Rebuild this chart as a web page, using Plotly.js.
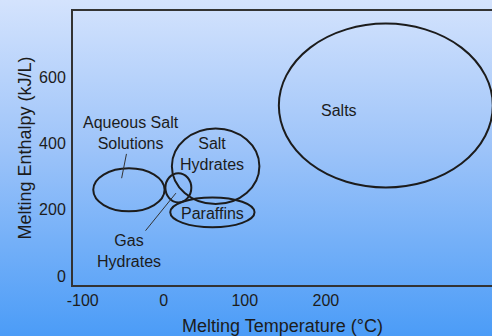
<!DOCTYPE html>
<html>
<head>
<meta charset="utf-8">
<script src="https://cdn.plot.ly/plotly-3.0.1.min.js"></script>
<style>
  html, body { margin: 0; padding: 0; }
  body { width: 492px; height: 336px; background: linear-gradient(to bottom, #d4e3fd 0%, #9cc3f9 45%, #4b9cf7 100%); }
  #chart { width: 492px; height: 336px; }
</style>
</head>
<body>
<div id="chart"></div>
<script>
// Material classes: melting temperature (°C) and melting enthalpy (kJ/L) regions
const regionNames      = ["Salts", "Aqueous Salt Solutions", "Gas Hydrates", "Salt Hydrates", "Paraffins"];
const tempCenter       = [274, -43, 18, 64, 60];
const tempHalfWidth    = [132, 44, 16, 54, 52];
const enthalpyCenter   = [514, 260, 266, 331, 192];
const enthalpyHalfSpan = [247, 65, 44, 114, 45];

// Labels
const labelTexts = ["Salts", "Aqueous Salt<br>Solutions", "Gas<br>Hydrates", "Salt<br>Hydrates", "Paraffins"];
const labelTemp  = [216, -41, -43, 60, 60];
const labelEnth  = [499, 430, 75, 367, 190];
const leaderTipTemp = [null, -52, 15, null, null];
const leaderTipEnth = [null, 295, 250, null, null];

const xTicks = [-100, 0, 100, 200];
const yTicks = [0, 200, 400, 600];

const ink = "#1c1c1c";
const fam = "Liberation Sans, Arial, sans-serif";
const shapes = regionNames.map((n, i) => ({
  type: "circle", xref: "x", yref: "y",
  x0: tempCenter[i] - tempHalfWidth[i], x1: tempCenter[i] + tempHalfWidth[i],
  y0: enthalpyCenter[i] - enthalpyHalfSpan[i], y1: enthalpyCenter[i] + enthalpyHalfSpan[i],
  line: { color: ink, width: 2 }, fillcolor: "rgba(0,0,0,0)"
}));

const annotations = labelTexts.map((t, i) => {
  const a = { text: t, xref: "x", yref: "y", font: { family: fam, size: 16, color: ink } };
  if (leaderTipTemp[i] !== null) {
    Object.assign(a, { x: leaderTipTemp[i], y: leaderTipEnth[i], ax: labelTemp[i], ay: labelEnth[i],
      axref: "x", ayref: "y", showarrow: true, arrowhead: 0, arrowwidth: 1, arrowcolor: "#333", standoff: 0, startstandoff: 0 });
  } else {
    Object.assign(a, { x: labelTemp[i], y: labelEnth[i], showarrow: false });
  }
  return a;
});

const layout = {
  width: 492, height: 336,
  paper_bgcolor: "rgba(0,0,0,0)", plot_bgcolor: "rgba(0,0,0,0)",
  margin: { l: 73, r: 0, t: 11, b: 51, pad: 0 },
  showlegend: false,
  font: { family: fam, size: 16, color: ink },
  xaxis: {
    range: [-112, 405], tickvals: xTicks, ticktext: xTicks.map(String),
    showgrid: false, zeroline: false, showline: true, mirror: true, linecolor: "#333", linewidth: 2,
    ticks: "", tickfont: { size: 16 },
    title: { text: "Melting Temperature (°C)", standoff: 11, font: { size: 18, color: ink } },
    automargin: false, fixedrange: true
  },
  yaxis: {
    range: [-27, 799], tickvals: yTicks, ticktext: yTicks.map(String),
    showgrid: false, zeroline: false, showline: true, mirror: false, linecolor: "#333", linewidth: 2,
    ticks: "outside", ticklen: 2, tickcolor: "rgba(0,0,0,0)", tickfont: { size: 16 },
    title: { text: "Melting Enthalpy (kJ/L)", standoff: 3, font: { size: 18, color: ink } },
    automargin: false, fixedrange: true
  },
  shapes: shapes,
  annotations: annotations
};

Plotly.newPlot("chart", [{ x: [], y: [], type: "scatter", mode: "markers", hoverinfo: "skip" }], layout, { displayModeBar: false, staticPlot: true });
</script>
</body>
</html>
